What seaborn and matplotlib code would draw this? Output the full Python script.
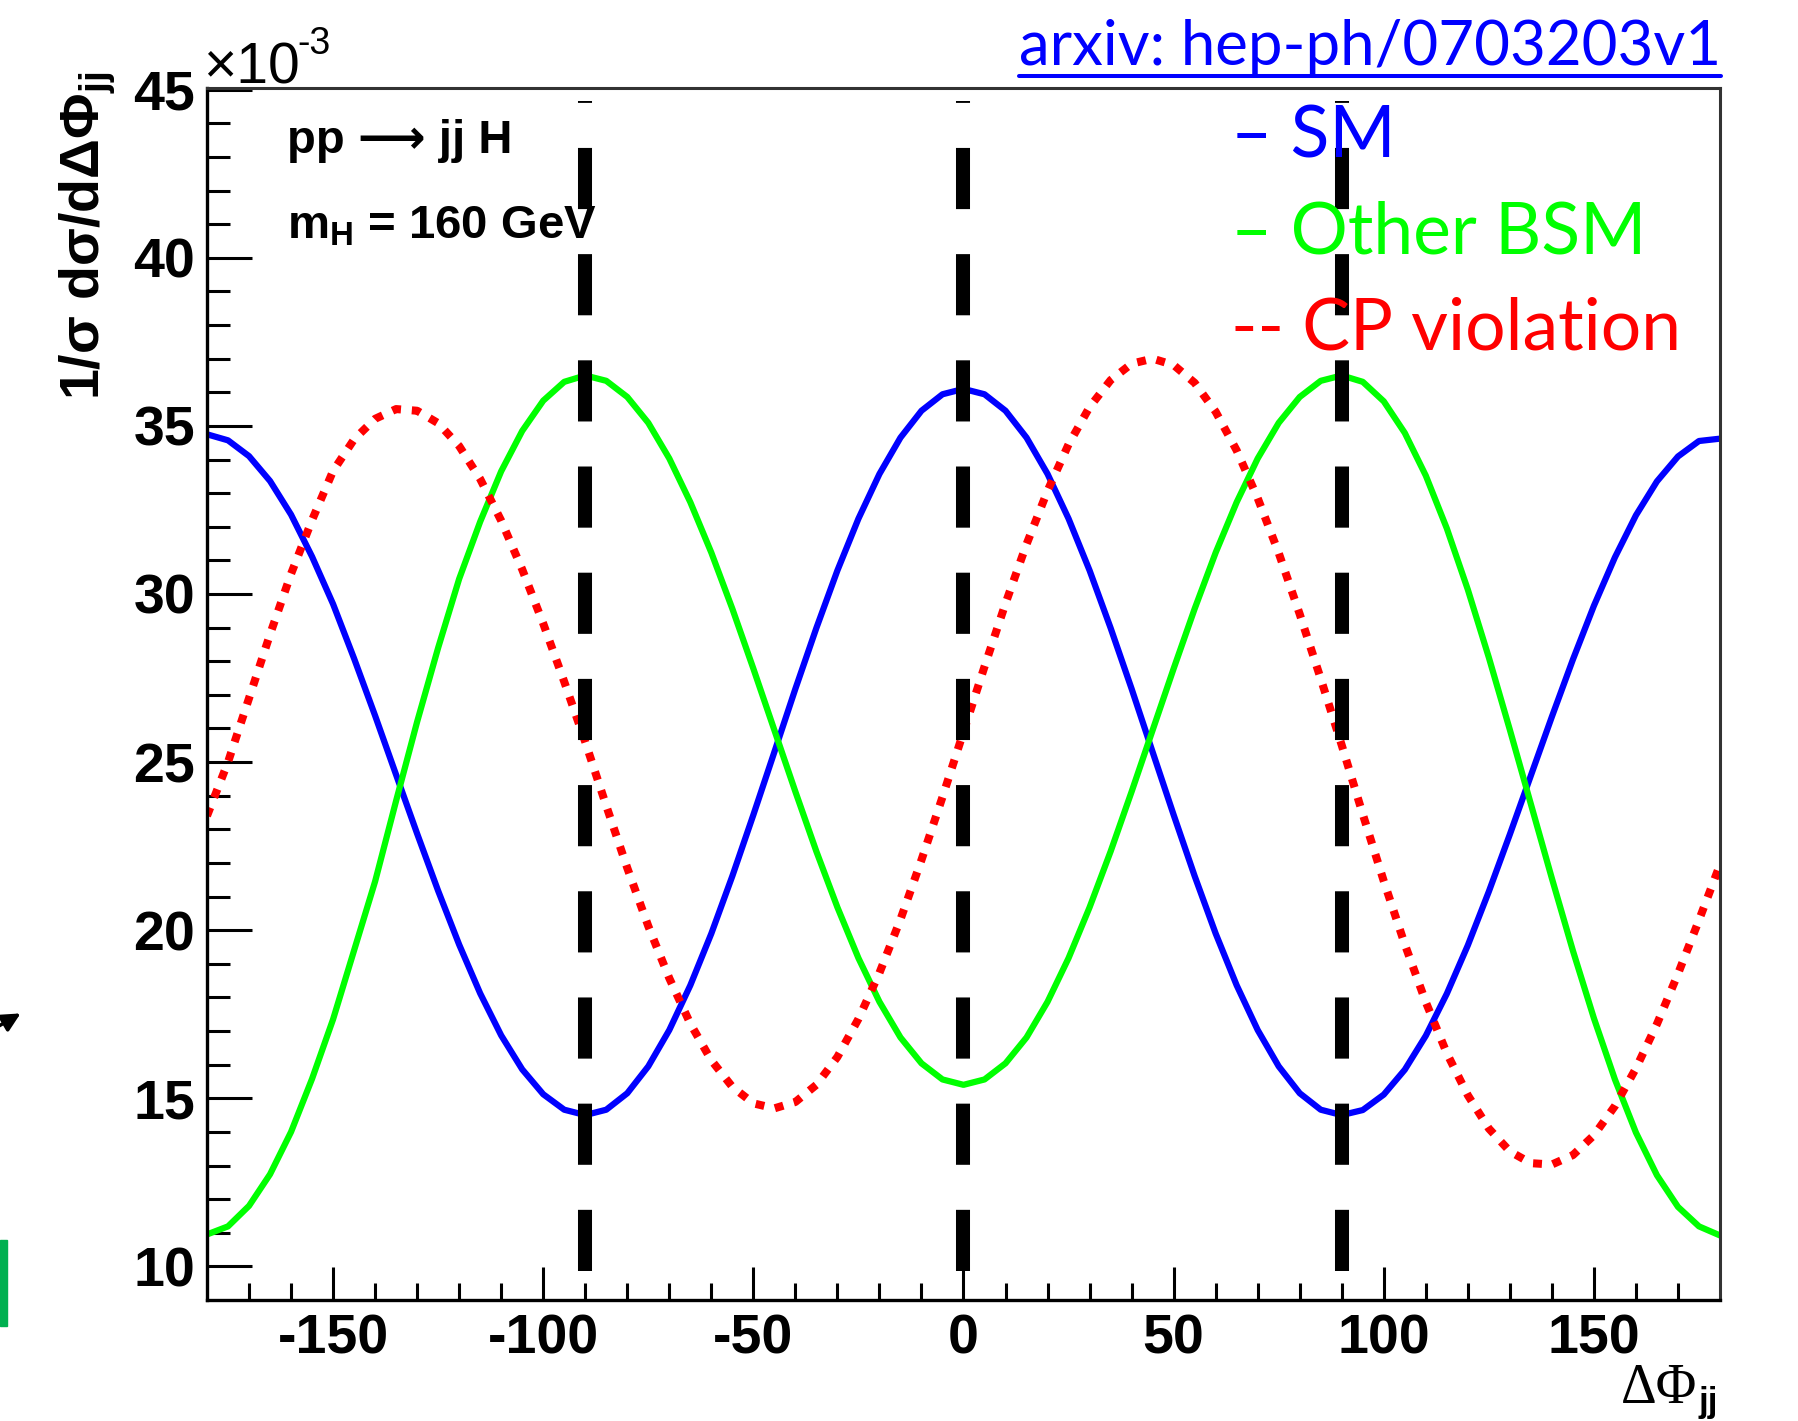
import pandas as pd
import matplotlib
matplotlib.use("Agg")
import matplotlib.pyplot as plt
import seaborn as sns
from matplotlib.lines import Line2D
from matplotlib.patches import FancyArrowPatch, Rectangle
from matplotlib.transforms import IdentityTransform

# delta phi_jj grid in degrees, curves every 5 deg (units of 1e-3)
phi = list(range(-180, 181, 5))

sm = [34.75, 34.57, 34.10, 33.36, 32.36, 31.11, 29.70, 28.08, 26.38, 24.62, 22.87, 21.17, 19.57, 18.12, 16.87, 15.86, 15.12, 14.66,
      14.50, 14.66, 15.15, 15.95, 17.03, 18.36, 19.90, 21.61, 23.43, 25.30, 27.18, 28.99, 30.70, 32.24, 33.57, 34.65, 35.45, 35.94, 36.10,
      35.94, 35.45, 34.65, 33.57, 32.24, 30.70, 28.99, 27.18, 25.30, 23.43, 21.61, 19.90, 18.36, 17.03, 15.95, 15.15, 14.66, 14.50,
      14.65, 15.11, 15.85, 16.86, 18.11, 19.55, 21.15, 22.85, 24.60, 26.35, 28.05, 29.65, 31.09, 32.34, 33.35, 34.09, 34.55, 34.62]

other_bsm = [10.95, 11.19, 11.80, 12.74, 14.00, 15.58, 17.35, 19.40, 21.45, 23.85, 26.20, 28.40, 30.45, 32.15, 33.65, 34.85, 35.75, 36.31,
             36.50, 36.34, 35.86, 35.09, 34.03, 32.73, 31.23, 29.56, 27.78, 25.95, 24.12, 22.34, 20.68, 19.17, 17.87, 16.81, 16.04, 15.56, 15.40,
             15.56, 16.04, 16.81, 17.87, 19.17, 20.68, 22.34, 24.12, 25.95, 27.78, 29.56, 31.23, 32.73, 34.03, 35.09, 35.86, 36.34, 36.50,
             36.31, 35.73, 34.79, 33.52, 31.95, 30.13, 28.11, 25.96, 23.75, 21.54, 19.39, 17.38, 15.56, 13.98, 12.71, 11.77, 11.19, 10.92]

cp_violation = [23.40, 25.00, 26.90, 28.80, 30.60, 32.20, 33.66, 34.60, 35.21, 35.50, 35.45, 35.08, 34.40, 33.42, 32.18, 30.73, 29.12, 27.39,
                25.60, 23.70, 21.85, 20.12, 18.57, 17.22, 16.13, 15.34, 14.85, 14.70, 14.89, 15.40, 16.23, 17.36, 18.73, 20.32, 22.09, 23.96, 25.90,
                27.84, 29.72, 31.48, 33.07, 34.45, 35.56, 36.36, 36.85, 37.00, 36.81, 36.28, 35.42, 34.27, 32.85, 31.22, 29.40, 27.48, 25.50,
                23.45, 21.46, 19.58, 17.86, 16.34, 15.09, 14.10, 13.42, 13.07, 13.03, 13.31, 13.90, 14.77, 15.89, 17.21, 18.70, 20.30, 21.95]

# vertical reference lines
ref_phis = [-90, 0, 90]
ref_span = [9.87, 44.65]

x_major = [-150, -100, -50, 0, 50, 100, 150]
x_minor = list(range(-170, 180, 10))
y_major = [10, 15, 20, 25, 30, 35, 40, 45]
y_minor = list(range(10, 46))

legend_labels = ["\u2013 SM", "\u2013 Other BSM", "-- CP violation"]
legend_colors = ["#0000ff", "#00ff00", "#ff0000"]

W, H = 1799, 1421

sns.set_style("ticks")
plt.rcParams['font.family'] = ['Liberation Sans', 'DejaVu Sans']
plt.rcParams['text.color'] = 'black'
plt.rcParams['axes.unicode_minus'] = False
plt.rcParams['mathtext.fontset'] = 'custom'
plt.rcParams['mathtext.rm'] = 'Liberation Sans:bold'
plt.rcParams['mathtext.bf'] = 'Liberation Sans:bold'
plt.rcParams['mathtext.it'] = 'Liberation Sans:bold'
plt.rcParams['mathtext.default'] = 'regular'

fig = plt.figure(figsize=(W / 100, H / 100), dpi=100)
ax = fig.add_axes([207 / W, 1 - 1300 / H, (1720 - 207) / W, (1300 - 88) / H])

df = pd.DataFrame({"phi": phi, "SM": sm, "Other BSM": other_bsm, "CP violation": cp_violation})

sns.lineplot(data=df, x="phi", y="SM", color="#0000ff", linewidth=4.5, sort=False,
             solid_joinstyle="round", ax=ax)
sns.lineplot(data=df, x="phi", y="Other BSM", color="#00ff00", linewidth=4.5, sort=False,
             solid_joinstyle="round", ax=ax)
sns.lineplot(data=df, x="phi", y="CP violation", color="#ff0000", linewidth=5.8,
             linestyle=(0, (1.1, 1.35)), sort=False, ax=ax)

for x0 in ref_phis:
    ax.plot([x0, x0], ref_span, color="black", linewidth=10.1,
            linestyle=(0, (4.36, 3.21)), dash_capstyle="butt")

ax.set_xlim(-180, 180)
ax.set_ylim(9.0, 45.05)
ax.set_xticks(x_major)
ax.set_xticks(x_minor, minor=True)
ax.set_yticks(y_major)
ax.set_yticks(y_minor, minor=True)
ax.set_xlabel("")
ax.set_ylabel("")

ax.tick_params(axis="both", which="both", direction="in", width=2.2, top=False, right=False,
               labelsize=40, colors="black")
ax.tick_params(axis="y", which="major", length=32.4, pad=8.5)
ax.tick_params(axis="y", which="minor", length=16.6)
ax.tick_params(axis="x", which="major", length=24, pad=10)
ax.tick_params(axis="x", which="minor", length=12)
for lab in ax.get_xticklabels() + ax.get_yticklabels():
    lab.set_fontweight("bold")

for side in ["left", "bottom"]:
    ax.spines[side].set_linewidth(2.4)
    ax.spines[side].set_color("black")
for side in ["top", "right"]:
    ax.spines[side].set_linewidth(2.2)
    ax.spines[side].set_color("#333333")

# axis titles
fig.text(58 / W, 1 - 71 / H, r"$\mathbf{1/\sigma\ d\sigma/d\Delta\Phi_{jj}}$", rotation=90,
         ha="left", va="top", fontsize=40)
fig.text(203 / W, 1 - 84 / H, "\u00d710", fontsize=41, ha="left", va="baseline")
fig.text(297 / W, 1 - 54 / H, "-3", fontsize=27, ha="left", va="baseline")
fig.text(1697 / W, 1 - 1403 / H, "\u0394\u03a6", fontsize=40, family="Liberation Serif",
         ha="right", va="baseline")
fig.text(1699 / W, 1 - 1412 / H, "jj", fontsize=25, fontweight="bold", ha="left", va="baseline")

# process labels
fig.text(287 / W, 1 - 153 / H, "pp \u27f6 jj H", fontsize=34, fontweight="bold", va="baseline")
fig.text(287 / W, 1 - 239 / H, r"m$_{H}$ = 160 GeV", fontsize=34, fontweight="bold", va="baseline")

# slide annotations
for i, (lab, col) in enumerate(zip(legend_labels, legend_colors)):
    fig.text(1231 / W, 1 - (157 + 96 * i) / H, lab, color=col, fontsize=51.5, family="Lato",
             ha="left", va="baseline")

arx = fig.text(1019 / W, 1 - 65 / H, "arxiv: hep-ph/0703203v1", color="#0000ff", fontsize=44.5,
               family="Lato", ha="left", va="baseline")
fig.canvas.draw()
bb = arx.get_window_extent()
fig.add_artist(Line2D([bb.x0, bb.x1], [H - 76, H - 76], color="#0000ff", linewidth=2.9,
                      transform=IdentityTransform()))

# leftover slide decorations at the left edge
fig.add_artist(FancyArrowPatch((-8, H - 1030), (23, H - 1012), arrowstyle="-|>", mutation_scale=28,
                               color="black", linewidth=2.5, transform=IdentityTransform()))
fig.add_artist(Rectangle((0, H - 1326), 7, 86, color="#00b050", transform=IdentityTransform()))

fig.savefig("out.png", dpi=100)
